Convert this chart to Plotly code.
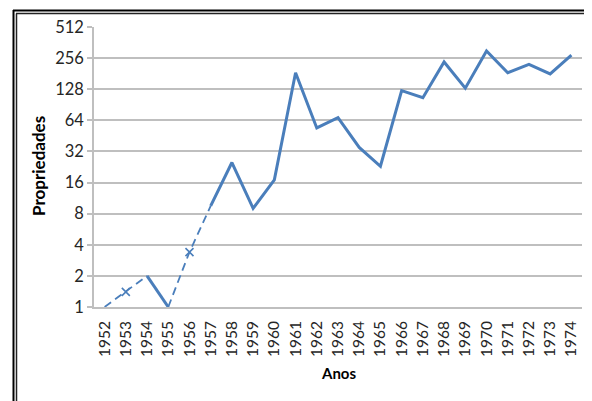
import plotly.graph_objects as go

years = list(range(1952, 1975))
propriedades = [1, None, 2, 1, None, 9.5, 25, 9, 17, 185, 54, 68, 35, 23,
                124, 106, 235, 131, 300, 185, 223, 180, 273]
est_years = [1953, 1956]
est_values = [1.4, 3.4]
y_ticks = [1, 2, 4, 8, 16, 32, 64, 128, 256, 512]

BLUE = "#4A7EBB"
OFF = 8  # page body margin
W, H = 592 - OFF, 401 - OFF
L, T = 94 - OFF, 27 - OFF
R = W - (582 - OFF)
B = H - (307 - OFF)
pw, ph = W - L - R, H - T - B

fig = go.Figure()

fig.add_trace(go.Scatter(x=years, y=propriedades, mode="lines",
                         line=dict(color=BLUE, width=3), connectgaps=False,
                         hoverinfo="skip"))

# dashed bridges through estimated points
val = dict(zip(years, propriedades))
for ey, ev in zip(est_years, est_values):
    xs = [ey - 1, ey, ey + 1]
    ys = [val[ey - 1], ev, val[ey + 1]]
    fig.add_trace(go.Scatter(x=xs, y=ys, mode="lines",
                             line=dict(color=BLUE, width=1.8, dash="8px,5px"),
                             hoverinfo="skip"))
fig.add_trace(go.Scatter(x=est_years, y=est_values, mode="markers",
                         marker=dict(symbol="x-thin", size=8, color=BLUE,
                                     line=dict(color=BLUE, width=1.6)),
                         hoverinfo="skip"))

def px(x):
    return (x - OFF - L) / pw

def py(y):
    return (H - B - (y - OFF)) / ph

shapes = [
    dict(type="line", xref="paper", yref="paper", x0=px(13.5), x1=px(13.5),
         y0=py(10), y1=py(401), line=dict(color="black", width=2)),
    dict(type="line", xref="paper", yref="paper", x0=px(16.5), x1=px(16.5),
         y0=py(13.5), y1=py(401), line=dict(color="#222222", width=1.5)),
    dict(type="line", xref="paper", yref="paper", x0=px(13), x1=px(592),
         y0=py(10.5), y1=py(10.5), line=dict(color="black", width=2)),
    dict(type="line", xref="paper", yref="paper", x0=px(16), x1=px(592),
         y0=py(13.5), y1=py(13.5), line=dict(color="#222222", width=1.5)),
]

fig.update_layout(
    width=W, height=H,
    margin=dict(l=L, r=R, t=T, b=B),
    paper_bgcolor="white", plot_bgcolor="white",
    showlegend=False,
    font=dict(family="Lato", size=16, color="#262626"),
    shapes=shapes,
    annotations=[
        dict(text="<b>Propriedades</b>", xref="paper", yref="paper",
             x=px(38), y=py(166), textangle=-90, showarrow=False,
             xanchor="center", yanchor="middle",
             font=dict(family="Lato", size=17, color="black")),
        dict(text="<b>Anos</b>", xref="paper", yref="paper",
             x=0.5, y=py(373), showarrow=False,
             xanchor="center", yanchor="middle",
             font=dict(family="Lato", size=15, color="black")),
    ],
)

fig.update_xaxes(range=[1951.5, 1974.5], tickmode="array", tickvals=years,
                 ticktext=[str(y) for y in years], tickangle=-90,
                 ticklabelstandoff=6, tickfont=dict(size=15.5),
                 showgrid=False, zeroline=False, showline=True,
                 linecolor="#BFBFBF", linewidth=1.5, ticks="", ticklen=0)
fig.update_yaxes(type="log", range=[0, 9 * 0.30103], tickmode="array",
                 tickvals=y_ticks, ticktext=[str(v) for v in y_ticks],
                 tickfont=dict(size=16.5),
                 showgrid=True, gridcolor="#BFBFBF", gridwidth=1.5,
                 zeroline=False, showline=True, linecolor="#BFBFBF",
                 linewidth=1.5, ticks="outside", ticklen=5,
                 tickcolor="#BFBFBF", tickwidth=1.5)

fig.write_html("out.html")
